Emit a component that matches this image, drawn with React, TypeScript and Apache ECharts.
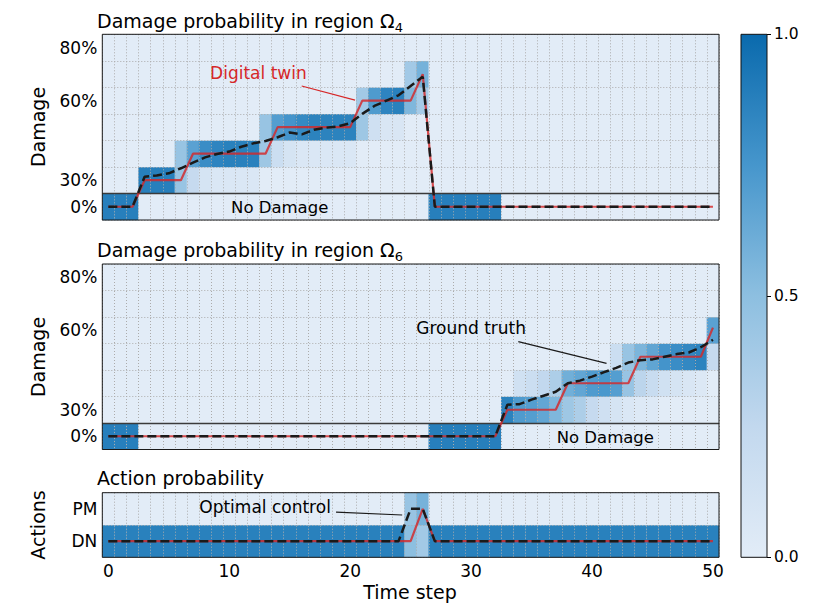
import React, { useEffect, useRef } from 'react';
import * as echarts from 'echarts';

// ---------- categories & ticks ----------
const TIME_STEPS = Array.from({ length: 51 }, (_, i) => String(i));
const TIME_TICK_LABELS = ['0', '10', '20', '30', '40', '50'];
const DAMAGE_LEVELS = ['0%', '30%', '40%', '50%', '60%', '70%', '80%'];
const DAMAGE_LEVEL_VALUES = [0, 30, 40, 50, 60, 70, 80];
const DAMAGE_TICK_LABELS = ['0%', '30%', '60%', '80%'];
const ACTIONS = ['DN', 'PM'];
const BLUES = ['#e2ecf7', '#c2d8ee', '#8dbfe0', '#4696cc', '#0a6aad'];

// ---------- heatmap cells: [row, fromStep, toStep, probability] ----------
const OMEGA4_CELLS = [
  [0, 0, 2, 0.88], [0, 27, 32, 0.88],
  [1, 3, 5, 0.88], [1, 6, 6, 0.45], [1, 7, 7, 0.22], [1, 8, 8, 0.1], [1, 9, 12, 0.06],
  [2, 6, 6, 0.45], [2, 7, 7, 0.68], [2, 8, 8, 0.8], [2, 9, 9, 0.85], [2, 10, 12, 0.87],
  [2, 13, 13, 0.42], [2, 14, 14, 0.18], [2, 15, 15, 0.1], [2, 16, 20, 0.06],
  [3, 13, 13, 0.45], [3, 14, 14, 0.7], [3, 15, 15, 0.76], [3, 16, 16, 0.82], [3, 17, 20, 0.86],
  [3, 21, 21, 0.42], [3, 22, 22, 0.15], [3, 23, 24, 0.07],
  [4, 21, 21, 0.4], [4, 22, 22, 0.72], [4, 23, 23, 0.85], [4, 24, 24, 0.87], [4, 25, 25, 0.55], [4, 26, 26, 0.38],
  [5, 25, 25, 0.4], [5, 26, 26, 0.58],
];
const OMEGA6_CELLS = [
  [0, 0, 2, 0.88], [0, 27, 32, 0.88],
  [1, 33, 33, 0.86], [1, 34, 34, 0.72], [1, 35, 35, 0.7], [1, 36, 36, 0.65], [1, 37, 37, 0.55],
  [1, 38, 38, 0.42], [1, 39, 39, 0.35], [1, 40, 40, 0.22], [1, 41, 41, 0.15], [1, 42, 42, 0.1],
  [1, 43, 43, 0.06], [1, 44, 45, 0.04],
  [2, 34, 34, 0.14], [2, 35, 35, 0.18], [2, 36, 36, 0.25], [2, 37, 37, 0.35], [2, 38, 38, 0.6],
  [2, 39, 39, 0.65], [2, 40, 40, 0.72], [2, 41, 41, 0.74], [2, 42, 42, 0.7], [2, 43, 43, 0.45],
  [2, 44, 44, 0.28], [2, 45, 45, 0.2], [2, 46, 46, 0.14], [2, 47, 47, 0.1], [2, 48, 48, 0.07], [2, 49, 49, 0.05],
  [3, 42, 42, 0.18], [3, 43, 43, 0.45], [3, 44, 44, 0.56], [3, 45, 45, 0.66], [3, 46, 46, 0.76],
  [3, 47, 47, 0.8], [3, 48, 48, 0.83], [3, 49, 49, 0.86], [3, 50, 50, 0.22],
  [4, 50, 50, 0.68],
];
const ACTION_CELLS = [
  [0, 0, 24, 0.87], [0, 25, 25, 0.5], [0, 26, 26, 0.4], [0, 27, 50, 0.87],
  [1, 25, 25, 0.45], [1, 26, 26, 0.58],
];

// ---------- lines (damage in %, actions 0 = DN, 1 = PM), one value per time step ----------
const OMEGA4_TRUTH = [
  0, 0, 0, 31.3, 31.8, 32.6, 34.5, 36.6, 38.6, 39.9, 40.8, 42.6, 43.9, 44.8, 46.2, 48, 47.3,
  49, 49.8, 50.3, 51.5, 55, 58, 60, 62, 65.5, 69,
  0, 0, 0, 0, 0, 0, 0, 0, 0, 0, 0, 0, 0, 0, 0, 0, 0, 0, 0, 0, 0, 0, 0, 0,
];
const OMEGA4_TWIN = [
  0, 0, 0, 30, 30, 30, 30, 40, 40, 40, 40, 40, 40, 40, 50, 50, 50, 50, 50, 50, 50,
  60, 60, 60, 60, 60, 70,
  0, 0, 0, 0, 0, 0, 0, 0, 0, 0, 0, 0, 0, 0, 0, 0, 0, 0, 0, 0, 0, 0, 0, 0,
];
const OMEGA6_TRUTH = [
  0, 0, 0, 0, 0, 0, 0, 0, 0, 0, 0, 0, 0, 0, 0, 0, 0, 0, 0, 0, 0, 0, 0, 0, 0, 0, 0, 0, 0, 0, 0, 0, 0,
  31.9, 32.1, 33.8, 35.3, 36.8, 40, 41, 42.5, 44.2, 45.8, 47.8, 48.7, 49, 50, 51, 51.6, 53.6, 56.4,
];
const OMEGA6_TWIN = [
  0, 0, 0, 0, 0, 0, 0, 0, 0, 0, 0, 0, 0, 0, 0, 0, 0, 0, 0, 0, 0, 0, 0, 0, 0, 0, 0, 0, 0, 0, 0, 0, 0,
  30, 30, 30, 30, 30, 40, 40, 40, 40, 40, 40, 50, 50, 50, 50, 50, 50, 61,
];
const ACTION_OPTIMAL = [
  0, 0, 0, 0, 0, 0, 0, 0, 0, 0, 0, 0, 0, 0, 0, 0, 0, 0, 0, 0, 0, 0, 0, 0, 0, 1, 1,
  0, 0, 0, 0, 0, 0, 0, 0, 0, 0, 0, 0, 0, 0, 0, 0, 0, 0, 0, 0, 0, 0, 0, 0,
];
const ACTION_TWIN = [
  0, 0, 0, 0, 0, 0, 0, 0, 0, 0, 0, 0, 0, 0, 0, 0, 0, 0, 0, 0, 0, 0, 0, 0, 0, 0, 1,
  0, 0, 0, 0, 0, 0, 0, 0, 0, 0, 0, 0, 0, 0, 0, 0, 0, 0, 0, 0, 0, 0, 0, 0,
];

// ---------- layout ----------
const FONT = 'DejaVu Sans';
const PLOT_LEFT = 102.3;
const PLOT_WIDTH = 616.7;
const PANELS = [
  { top: 34.3, height: 185.7 },
  { top: 264, height: 185.5 },
  { top: 492.7, height: 64.6 },
];
const COLORBAR = { left: 741, top: 34.3, width: 26, height: 523 };

function toLevel(p: number) {
  const v = DAMAGE_LEVEL_VALUES;
  if (p <= v[0]) return 0;
  for (let i = 0; i < v.length - 1; i++) {
    if (p <= v[i + 1]) return i + (p - v[i]) / (v[i + 1] - v[i]);
  }
  return v.length - 1;
}

function cellsToData(cells: number[][], nRows: number) {
  const g = Array.from({ length: nRows }, () => TIME_STEPS.map(() => 0));
  cells.forEach(([r, a, b, p]) => {
    for (let t = a; t <= b; t++) g[r][t] = p;
  });
  const out: number[][] = [];
  g.forEach((row, r) => row.forEach((p, t) => out.push([t, r, p])));
  return out;
}

const TWIN_COLOR = 'rgba(214,39,40,0.82)';
const twinStyle = { color: TWIN_COLOR, width: 2.2 };
const truthStyle = { color: '#1a1a1a', width: 2.5, type: [9, 4] };
const gridLine = { show: true, interval: 0, lineStyle: { color: '#ababab', width: 1, type: [1, 2] } };
const tickLabel = { color: '#000', fontSize: 17, fontFamily: FONT };

function lineSeries(values: number[], axis: number, style: any, conv: (v: number) => number, extra: any = {}) {
  return {
    type: 'line',
    xAxisIndex: axis,
    yAxisIndex: axis,
    data: values.map((v, t) => [t, conv(v)]),
    showSymbol: false,
    symbol: 'none',
    silent: true,
    lineStyle: style,
    z: style === truthStyle ? 6 : 5,
    ...extra,
  };
}

function textMarks(items: { name: string; coord: number[]; color?: string; fontSize?: number }[]) {
  return {
    silent: true,
    symbol: 'circle',
    symbolSize: 0,
    itemStyle: { color: 'transparent' },
    label: { show: true, position: 'inside', formatter: '{b}', fontFamily: FONT, fontSize: 17, color: '#000' },
    data: items.map((it) => ({
      name: it.name,
      coord: it.coord,
      label: { color: it.color || '#000', fontSize: it.fontSize || 17 },
    })),
  };
}

function lineMarks(items: any[]) {
  return {
    silent: true,
    symbol: ['none', 'none'],
    label: { show: false },
    emphasis: { disabled: true },
    data: items,
  };
}

const separator = { yAxis: 0.5, lineStyle: { color: '#3a3a3a', width: 1.3, type: 'solid' } };

function buildOption() {
  const ident = (v: number) => v;
  const grids: any[] = [
    ...PANELS.map((p) => ({ left: PLOT_LEFT, top: p.top, width: PLOT_WIDTH, height: p.height, outerBoundsMode: 'none' })),
    ...PANELS.map((p) => ({
      left: PLOT_LEFT, top: p.top, width: PLOT_WIDTH, height: p.height, outerBoundsMode: 'none',
      show: true, backgroundColor: 'transparent', borderColor: '#1a1a1a', borderWidth: 1, z: 10,
    })),
    { ...COLORBAR, outerBoundsMode: 'none', show: true, backgroundColor: 'transparent', borderColor: '#111', borderWidth: 1, z: 10 },
  ];

  const catX = (i: number, labels: boolean) => ({
    type: 'category', gridIndex: i, data: TIME_STEPS, z: 3,
    axisLine: { show: false }, axisTick: { show: false }, splitLine: gridLine,
    axisLabel: labels
      ? { show: true, interval: (_: number, v: string) => TIME_TICK_LABELS.includes(v), margin: 5, ...tickLabel }
      : { show: false },
  });
  const valX = (i: number) => ({ type: 'value', gridIndex: i, min: -0.5, max: TIME_STEPS.length - 0.5, show: false });

  const xAxis: any[] = [
    catX(0, false), catX(1, false), catX(2, true),
    valX(3), valX(4), valX(5),
    { type: 'category', gridIndex: 6, data: [''], show: false },
  ];
  const catY = (i: number, data: string[], shown: string[]) => ({
    type: 'category', gridIndex: i, data, z: 3,
    axisLine: { show: false }, axisTick: { show: false }, splitLine: gridLine,
    axisLabel: { show: true, interval: (_: number, v: string) => shown.includes(v), margin: 5, ...tickLabel },
  });
  const valY = (i: number, n: number) => ({ type: 'value', gridIndex: i, min: -0.5, max: n - 0.5, show: false });
  const yAxis: any[] = [
    catY(0, DAMAGE_LEVELS, DAMAGE_TICK_LABELS),
    catY(1, DAMAGE_LEVELS, DAMAGE_TICK_LABELS),
    catY(2, ACTIONS, ACTIONS),
    valY(3, DAMAGE_LEVELS.length), valY(4, DAMAGE_LEVELS.length), valY(5, ACTIONS.length),
    {
      type: 'value', gridIndex: 6, min: 0, max: 1, interval: 0.5, position: 'right',
      axisLine: { show: false }, splitLine: { show: false },
      axisTick: { show: true, length: 4, lineStyle: { color: '#000', width: 1 } },
      axisLabel: { formatter: (v: number) => v.toFixed(1), margin: 7, color: '#000', fontSize: 15.5, fontFamily: FONT },
    },
  ];

  const heat = (i: number, cells: number[][], rows: number) => ({
    type: 'heatmap', xAxisIndex: i, yAxisIndex: i, data: cellsToData(cells, rows),
    silent: true, progressive: 0, emphasis: { disabled: true }, z: 2,
  });

  const series: any[] = [
    heat(0, OMEGA4_CELLS, DAMAGE_LEVELS.length),
    heat(1, OMEGA6_CELLS, DAMAGE_LEVELS.length),
    heat(2, ACTION_CELLS, ACTIONS.length),
    lineSeries(OMEGA4_TWIN, 3, twinStyle, toLevel, {
      markLine: lineMarks([
        separator,
        [{ coord: [15.99, 4.55], lineStyle: { color: '#d62728', width: 1.2, type: 'solid' } }, { coord: [20.4, 4.02] }],
      ]),
      markPoint: textMarks([{ name: 'Digital twin', coord: [12.41, 5.03], color: '#d62728' }]),
    }),
    lineSeries(OMEGA4_TRUTH, 3, truthStyle, toLevel, {
      markPoint: textMarks([{ name: 'No Damage', coord: [14.17, -0.03], fontSize: 16.5 }]),
    }),
    lineSeries(OMEGA6_TWIN, 4, twinStyle, toLevel, {
      markLine: lineMarks([separator]),
    }),
    lineSeries(OMEGA6_TRUTH, 4, truthStyle, toLevel, {
      markLine: lineMarks([
        [{ coord: [33.9, 3.57], lineStyle: { color: '#1a1a1a', width: 1.2, type: 'solid' } }, { coord: [41.2, 2.75] }],
      ]),
      markPoint: textMarks([
        { name: 'Ground truth', coord: [30.0, 4.07] },
        { name: 'No Damage', coord: [41.1, -0.03], fontSize: 16.5 },
      ]),
    }),
    lineSeries(ACTION_TWIN, 5, twinStyle, ident),
    lineSeries(ACTION_OPTIMAL, 5, truthStyle, ident, {
      markLine: lineMarks([
        [{ coord: [18.83, 0.9], lineStyle: { color: '#1a1a1a', width: 1.2, type: 'solid' } }, { coord: [24.3, 0.81] }],
      ]),
      markPoint: textMarks([{ name: 'Optimal control', coord: [12.96, 1.05] }]),
    }),
    {
      type: 'bar', xAxisIndex: 6, yAxisIndex: 6, data: [1], barWidth: '100%', silent: true, z: 2,
      itemStyle: {
        color: new echarts.graphic.LinearGradient(0, 1, 0, 0,
          BLUES.map((c, i) => ({ offset: i / (BLUES.length - 1), color: c }))),
      },
    },
  ];

  const title = (y: number, main: string, sub?: string) => ({
    type: 'text', x: 97, y,
    style: {
      text: sub ? `{t|${main}}{s|${sub}}` : `{t|${main}}`,
      rich: {
        t: { fontSize: 19, fontFamily: FONT, lineHeight: 25, fill: '#000' },
        s: { fontSize: 13, fontFamily: FONT, lineHeight: 13, verticalAlign: 'bottom', fill: '#000' },
      },
      align: 'left', verticalAlign: 'middle', fill: '#000',
    },
  });
  const axisName = (x: number, y: number, text: string, rot: number) => ({
    type: 'text', x, y, rotation: rot,
    style: { text, fontSize: 19, fontFamily: FONT, fill: '#000', align: 'center', verticalAlign: 'middle' },
  });

  return {
    animation: false,
    backgroundColor: '#fff',
    grid: grids,
    xAxis,
    yAxis,
    visualMap: {
      type: 'continuous', show: false, min: 0, max: 1, dimension: 2, seriesIndex: [0, 1, 2],
      inRange: { color: BLUES },
    },
    series,
    graphic: [
      title(21, 'Damage probability in region Ω', '4'),
      title(250, 'Damage probability in region Ω', '6'),
      title(478, 'Action probability'),
      axisName(37.5, 127, 'Damage', Math.PI / 2),
      axisName(37.5, 357, 'Damage', Math.PI / 2),
      axisName(37.5, 525, 'Actions', Math.PI / 2),
      axisName(410, 592, 'Time step', 0),
    ],
  };
}

export default function App() {
  const ref = useRef<HTMLDivElement>(null);
  useEffect(() => {
    document.body.style.margin = '0';
    const chart = echarts.init(ref.current!, null, { renderer: 'svg' });
    chart.setOption(buildOption() as any);
    return () => chart.dispose();
  }, []);
  return <div ref={ref} style={{ width: 820, height: 603 }} />;
}
